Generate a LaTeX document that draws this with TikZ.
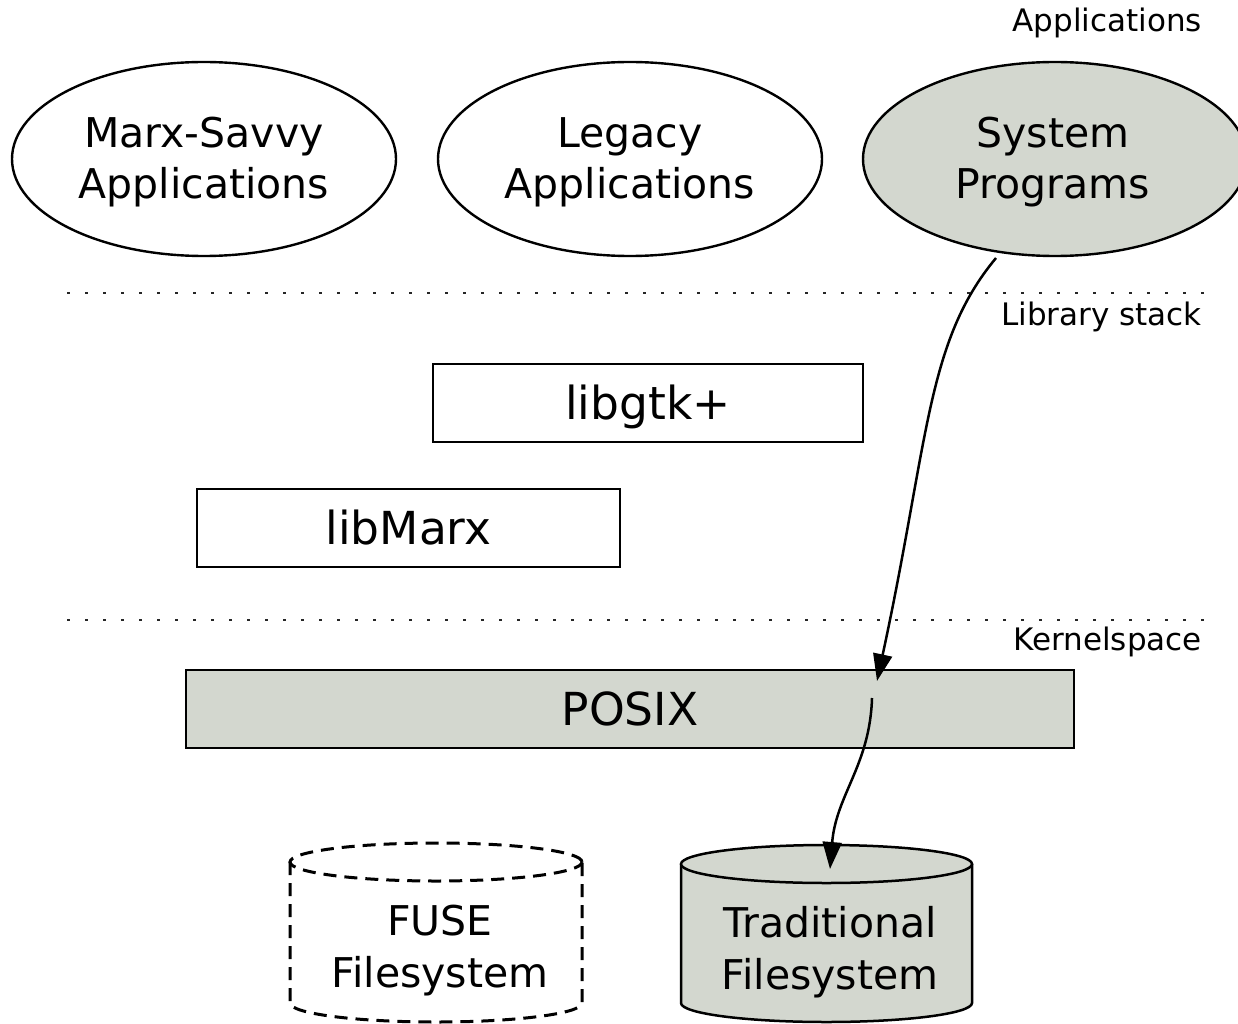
\documentclass[tikz,border=0pt]{standalone}
\usepackage{fontspec}
\setmainfont{DejaVu Sans}
\usetikzlibrary{shapes.geometric,arrows.meta}
\definecolor{alu}{HTML}{D3D7CF}
\begin{document}
\begin{tikzpicture}[x=1pt,y=-1pt,
  ell/.style={ellipse,draw,line width=2.4pt,minimum width=384pt,minimum height=194pt,inner sep=0pt},
  elltext/.style={align=center,inner sep=0pt,font=\fontsize{41}{51}\selectfont},
  lbox/.style={rectangle,draw,line width=2pt,inner sep=0pt,font=\fontsize{45.5}{50}\selectfont,text height=38pt,text depth=5pt,minimum height=78pt},
  layer/.style={anchor=base east,inner sep=0pt,font=\fontsize{31}{36}\selectfont},
  sep/.style={line width=2.5pt,dash pattern=on 2.5pt off 15.5pt,black!85},
  flow/.style={line width=2.5pt,-{Triangle[length=27pt,width=19pt]}},
  cyltext/.style={align=center,inner sep=0pt,font=\fontsize{41}{52}\selectfont},
  cylsolid/.style={line width=2.5pt,fill=alu},
  cyldash/.style={line width=3pt,dash pattern=on 13pt off 8pt}
]
\useasboundingbox (0,0) rectangle (1238,1024);

% layer labels and separators
\node[layer] (lapps) at (1202,32) {Applications};
\node[layer] (llib) at (1202,325) {Library stack};
\node[layer] (lkern) at (1202,650) {Kernelspace};
\draw[sep] (67,293) -- (1205,293);
\draw[sep] (67,620) -- (1205,620);

% applications
\node[ell] (msa) at (204,159) {};
\node[ell] (legacy) at (630,159) {};
\node[ell,fill=alu] (sysp) at (1055,159) {};
\node[elltext] (msat) at (204,162) {Marx-Savvy\\Applications};
\node[elltext] (legt) at (630,162) {Legacy\\Applications};
\node[elltext] (syst) at (1053,162) {System\\Programs};

% libraries
\node[lbox,minimum width=430pt] (gtk) at (648,403) {libgtk+};
\node[lbox,minimum width=423pt] (marx) at (408.5,528) {libMarx};

% kernel
\node[lbox,minimum width=888pt,fill=alu] (posix) at (630,709) {POSIX};

% FUSE cylinder (dashed)
\draw[cyldash] (290,862) -- (290,1003) arc[start angle=180,end angle=360,x radius=146pt,y radius=19pt] -- (582,862);
\draw[cyldash] (436,862) ellipse [x radius=146pt,y radius=19pt];
\node[cyltext] (fuse) at (440,951) {FUSE\\Filesystem};

% Traditional cylinder
\filldraw[cylsolid] (681,864) -- (681,1003) arc[start angle=180,end angle=360,x radius=145.5pt,y radius=19pt] -- (972,864);
\filldraw[cylsolid] (826.5,864) ellipse [x radius=145.5pt,y radius=19pt];
\node[cyltext] (trad) at (830,952) {Traditional\\Filesystem};

% connectors
\coordinate (a1s) at (996,258);
\coordinate (a1e) at (877,681);
\coordinate (a2s) at (872,698);
\coordinate (a2e) at (830,869);
\draw[flow] (a1s) .. controls (926,342) and (929,440) .. (a1e);
\draw[flow] (a2s) .. controls (870,765) and (836,795) .. (a2e);
\end{tikzpicture}
\end{document}
